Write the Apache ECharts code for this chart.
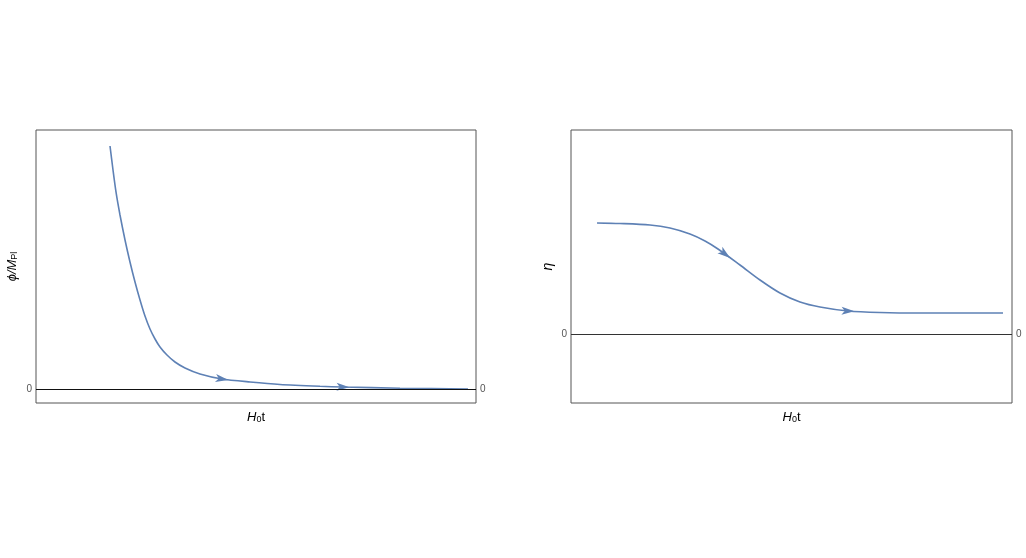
<!DOCTYPE html>
<html><head><meta charset="utf-8">
<script src="https://cdn.jsdelivr.net/npm/echarts@6/dist/echarts.min.js"></script>
<style>html,body{margin:0;padding:0;background:#fff}#c{width:1026px;height:558px}</style>
</head><body><div id="c"></div>
<script>
// Left panel: phi / M_Pl vs H0 t
const phiX = [1.682,1.75,1.818,1.909,2.023,2.136,2.25,2.364,2.477,2.591,2.705,2.818,2.977,3.159,3.386,3.727,4.227,4.864,5.545,6.455,6.977,8.273,9.818];
const phiY = [8.679,7.821,7.036,6.214,5.321,4.536,3.821,3.179,2.607,2.143,1.786,1.5,1.214,0.964,0.75,0.536,0.357,0.25,0.161,0.096,0.071,0.029,0.0];
const phiArrowX = [4.227, 6.977];
const phiArrowY = [0.357, 0.071];
const phiArrowAngle = [-9, -2];
// Right panel: eta vs H0 t
const etaX = [0.590,1.111,1.791,2.245,2.698,3.039,3.333,3.832,4.286,4.739,5.193,5.646,6.281,7.007,7.914,8.82,9.796];
const etaY = [3.70,3.683,3.633,3.533,3.333,3.1,2.833,2.3,1.8,1.367,1.067,0.9,0.767,0.717,0.7,0.7,0.7];
const etaArrowX = [3.492, 6.281];
const etaArrowY = [2.667, 0.767];
const etaArrowAngle = [-38, -2];
const zeroTick = [0];

const FONT = 'Liberation Sans, Arial, sans-serif';
const BLUE = '#5E81B5';
const ARROW = 'path://M0,0 L12,4 L0,8 L3,4 Z';

const pair = (xs, ys) => xs.map((x, i) => [x, ys[i]]);

const xNameRich = {
  i: {fontStyle: 'italic', fontSize: 13, fontFamily: FONT, color: '#000'},
  s: {fontSize: 9, fontFamily: FONT, color: '#000', padding: [5, 0, 0, 0]},
  n: {fontSize: 13, fontFamily: FONT, color: '#000'}
};

function xAxisFor(gi) {
  return {
    gridIndex: gi, type: 'value', min: 0, max: 10,
    axisLine: {show: false}, axisTick: {show: false}, axisLabel: {show: false}, splitLine: {show: false},
    name: '{i|H}{s|0}{n|t}', nameLocation: 'middle', nameGap: 7,
    nameTextStyle: {rich: xNameRich}
  };
}
function yAxesFor(gi, min, max, name, rich, gap) {
  const base = {
    gridIndex: gi, type: 'value', min: min, max: max,
    axisLine: {show: false}, splitLine: {show: false},
    axisTick: {show: false},
    axisLabel: {show: true, customValues: zeroTick, fontSize: 10, color: '#555', fontFamily: FONT, margin: 4}
  };
  return [
    Object.assign({}, base, {position: 'left', name: name, nameLocation: 'middle', nameGap: gap, nameTextStyle: {rich: rich}}),
    Object.assign({}, base, {position: 'right'})
  ];
}
const phiRich = {
  i: {fontStyle: 'italic', fontSize: 13, fontFamily: FONT, color: '#000'},
  s: {fontSize: 9, fontFamily: FONT, color: '#000', padding: [5, 0, 0, 0]}
};
const etaRich = {
  i: {fontStyle: 'italic', fontSize: 14, fontFamily: FONT, color: '#000'}
};

const leftY = yAxesFor(0, -0.5, 9.25, '{i|ϕ/M}{s|Pl}', phiRich, 17);
const rightY = yAxesFor(1, -2.3, 6.8, '{i|η}', etaRich, 16);

function zeroLine(c) {
  return {silent: true, symbol: 'none', label: {show: false},
    lineStyle: {color: c, width: 1, type: 'solid'}, data: [{yAxis: 0}]};
}

const option = {
  animation: false,
  grid: [
    {left: 36, top: 130, width: 440, height: 273, show: true, borderColor: '#555', borderWidth: 1, backgroundColor: 'transparent'},
    {left: 571, top: 130, width: 441, height: 273, show: true, borderColor: '#555', borderWidth: 1, backgroundColor: 'transparent'}
  ],
  xAxis: [xAxisFor(0), xAxisFor(1)],
  yAxis: [leftY[0], leftY[1], rightY[0], rightY[1]],
  series: [
    {type: 'line', xAxisIndex: 0, yAxisIndex: 0, data: pair(phiX, phiY), smooth: 0.25, showSymbol: false,
      lineStyle: {color: BLUE, width: 1.6}, markLine: zeroLine('#111'), z: 3},
    {type: 'scatter', xAxisIndex: 0, yAxisIndex: 0, symbol: ARROW, symbolSize: [13, 8],
      data: phiArrowX.map((x, i) => ({value: [x, phiArrowY[i]], symbolRotate: phiArrowAngle[i]})),
      itemStyle: {color: BLUE, opacity: 1}, z: 4},
    {type: 'line', xAxisIndex: 1, yAxisIndex: 2, data: pair(etaX, etaY), smooth: 0.3, showSymbol: false,
      lineStyle: {color: BLUE, width: 1.6}, markLine: zeroLine('#333'), z: 3},
    {type: 'scatter', xAxisIndex: 1, yAxisIndex: 2, symbol: ARROW, symbolSize: [13, 8],
      data: etaArrowX.map((x, i) => ({value: [x, etaArrowY[i]], symbolRotate: etaArrowAngle[i]})),
      itemStyle: {color: BLUE, opacity: 1}, z: 4}
  ]
};
echarts.init(document.getElementById('c')).setOption(option);
</script></body></html>
